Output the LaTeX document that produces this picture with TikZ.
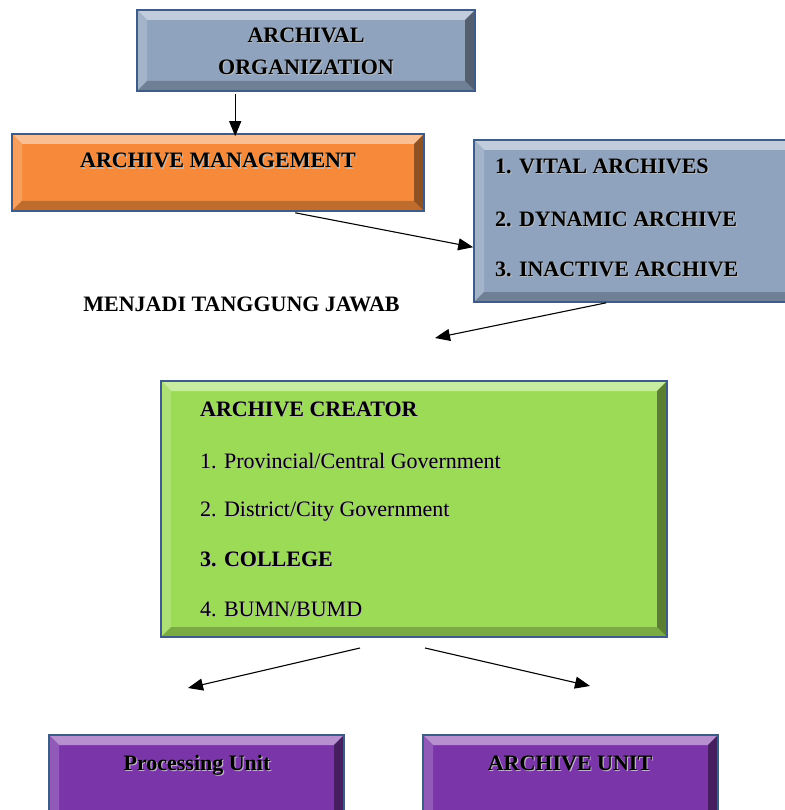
\documentclass[tikz,border=0pt]{standalone}
\usepackage{fontspec}
\setmainfont{Liberation Serif}
\usetikzlibrary{arrows.meta,calc}

\definecolor{slatefill}{HTML}{8FA3BF}
\definecolor{orangefill}{HTML}{F68A3A}
\definecolor{greenfill}{HTML}{9CDB56}
\definecolor{purplefill}{HTML}{7A36A8}
\definecolor{rimblue}{HTML}{3E5C86}

% text with a soft grey drop shadow
\newcommand\shadowtxt[1]{\leavevmode\rlap{\hspace{1.2pt}\raisebox{-1.2pt}{\textcolor{black!28}{#1}}}#1}

\tikzset{
  % rectangle with a bevelled frame: light top/left, dark bottom/right
  bevelbox/.style={rectangle, inner sep=0pt, fill=#1, draw=rimblue, line width=1.6pt,
    path picture={
      \def\bv{10pt}
      \coordinate (nw) at (path picture bounding box.north west);
      \coordinate (ne) at (path picture bounding box.north east);
      \coordinate (sw) at (path picture bounding box.south west);
      \coordinate (se) at (path picture bounding box.south east);
      \fill[#1!55!white] (nw) -- (ne) -- ($(ne)+(-\bv,-\bv)$) -- ($(nw)+(\bv,-\bv)$) -- cycle;
      \fill[#1!82!white] (nw) -- ($(nw)+(\bv,-\bv)$) -- ($(sw)+(\bv,\bv)$) -- (sw) -- cycle;
      \fill[#1!78!black] (sw) -- ($(sw)+(\bv,\bv)$) -- ($(se)+(-\bv,\bv)$) -- (se) -- cycle;
      \fill[#1!58!black] (ne) -- ($(ne)+(-\bv,-\bv)$) -- ($(se)+(-\bv,\bv)$) -- (se) -- cycle;
    }},
  boldtxt/.style={inner sep=0pt, font=\fontsize{22}{32}\selectfont\bfseries},
  plaintxt/.style={inner sep=0pt, font=\fontsize{22}{32}\selectfont},
  arr/.style={-{Triangle[length=15pt,width=12pt]}, line width=1.1pt, black},
}

\begin{document}
\begin{tikzpicture}[x=1pt, y=-1pt]
  \useasboundingbox (0,0) rectangle (784,810);

  % boxes
  \node[bevelbox=slatefill, minimum width=338pt, minimum height=81pt] (org) at (306,50.5) {};
  \node[bevelbox=orangefill, minimum width=412pt, minimum height=77pt] (mgmt) at (218,172.5) {};
  \node[bevelbox=slatefill, minimum width=326pt, minimum height=162pt] (list) at (637,221) {};
  \node[bevelbox=greenfill, minimum width=506pt, minimum height=256pt] (creator) at (414,509) {};
  \node[bevelbox=purplefill, minimum width=295pt, minimum height=100pt] (proc) at (196.5,785) {};
  \node[bevelbox=purplefill, minimum width=295pt, minimum height=100pt] (unit) at (570.5,785) {};

  % texts
  \node[boldtxt, align=center] (orgT) at (306,52) {\shadowtxt{ARCHIVAL}\\\shadowtxt{ORGANIZATION}};
  \node[boldtxt, anchor=base] (mgmtT) at (218,168) {\shadowtxt{ARCHIVE MANAGEMENT}};

  \node[boldtxt, anchor=base west] (vital) at (495,173.3) {\shadowtxt{1. VITAL ARCHIVES}};
  \node[boldtxt, anchor=base west] (dynamic) at (495,226.7) {\shadowtxt{2. DYNAMIC ARCHIVE}};
  \node[boldtxt, anchor=base west] (inactive) at (495,276.7) {\shadowtxt{3. INACTIVE ARCHIVE}};

  \node[boldtxt, anchor=base] (resp) at (241.5,311.7) {MENJADI TANGGUNG JAWAB};

  \node[boldtxt, anchor=base west] (creatorT) at (200,416) {\shadowtxt{ARCHIVE CREATOR}};
  \node[plaintxt, anchor=base west] (prov) at (200,468.3) {\shadowtxt{1. Provincial/Central Government}};
  \node[plaintxt, anchor=base west] (district) at (200,516.7) {\shadowtxt{2. District/City Government}};
  \node[boldtxt, anchor=base west] (college) at (200,566.7) {\shadowtxt{3. COLLEGE}};
  \node[plaintxt, anchor=base west] (bumn) at (200,616) {\shadowtxt{4. BUMN/BUMD}};

  \node[boldtxt, anchor=base] (procT) at (197,770) {\shadowtxt{Processing Unit}};
  \node[boldtxt, anchor=base] (unitT) at (570,770) {\shadowtxt{ARCHIVE UNIT}};

  % free ends of the connectors
  \coordinate (respEnd) at (435,338);
  \coordinate (splitL) at (360,648);
  \coordinate (splitR) at (425,648);
  \coordinate (procEnd) at (188,688);
  \coordinate (unitEnd) at (590,686);

  % connectors
  \draw[arr] ($(org.south west)+(99,2)$) -- ($(mgmt.north west)+(224,3)$);
  \draw[arr] ($(mgmt.south west)+(284,1)$) -- ($(list.north west)+(0,108)$);
  \draw[arr] ($(list.south west)+(133,0)$) -- (respEnd);
  \draw[arr] (splitL) -- (procEnd);
  \draw[arr] (splitR) -- (unitEnd);
\end{tikzpicture}
\end{document}
